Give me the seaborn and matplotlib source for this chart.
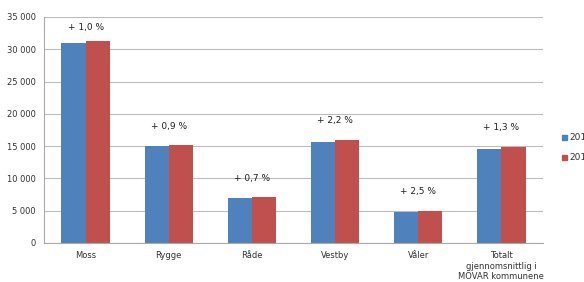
import matplotlib
matplotlib.use("Agg")
import matplotlib.pyplot as plt
import seaborn as sns
import pandas as pd

categories = ["Moss", "Rygge", "Råde", "Vestby", "Våler",
              "Totalt\ngjennomsnittlig i\nMOVAR kommunene"]
values_2011 = [31000, 15000, 7000, 15600, 4800, 14600]
values_2012 = [31300, 15100, 7050, 15900, 4920, 14800]
change_labels = ["+ 1,0 %", "+ 0,9 %", "+ 0,7 %", "+ 2,2 %", "+ 2,5 %", "+ 1,3 %"]
series_names = ["2011", "2012"]
yticks = [0, 5000, 10000, 15000, 20000, 25000, 30000, 35000]
ytick_labels = ["0", "5 000", "10 000", "15 000", "20 000", "25 000", "30 000", "35 000"]

df = pd.DataFrame({
    "kommune": categories * 2,
    "verdi": values_2011 + values_2012,
    "år": [series_names[0]] * len(categories) + [series_names[1]] * len(categories),
})

sns.set_theme(style="white")
plt.rcParams["font.family"] = ["DejaVu Sans"]

fig = plt.figure(figsize=(5.84, 2.82), dpi=100)
ax = fig.add_axes([44 / 584, 1 - 243 / 282, 499 / 584, 226 / 282])

sns.barplot(data=df, x="kommune", y="verdi", hue="år", order=categories,
            hue_order=series_names, palette=["#4F81BD", "#C0504D"],
            width=0.58, gap=0, saturation=1, linewidth=0, edgecolor="none",
            ax=ax, legend=False)

ax.set_ylim(0, 35000)
ax.set_xlim(-0.5, len(categories) - 0.5)
ax.set_yticks(yticks)
ax.set_yticklabels(ytick_labels, fontsize=6, color="#333333")
ax.tick_params(axis="x", labelsize=6, colors="#333333", length=0, pad=6)
ax.tick_params(axis="y", length=3, color="#AAAAAA", pad=3)
ax.set_xlabel("")
ax.set_ylabel("")
ax.yaxis.grid(True, color="#BDBDBD", linewidth=0.8)
ax.set_axisbelow(True)
for s in ["top", "right"]:
    ax.spines[s].set_visible(False)
for s in ["left", "bottom"]:
    ax.spines[s].set_color("#AAAAAA")
    ax.spines[s].set_linewidth(0.8)

for i, lab in enumerate(change_labels):
    top = max(values_2011[i], values_2012[i])
    ax.annotate(lab, (i, top), xytext=(0, 14 if i else 10), textcoords="offset points",
                ha="center", va="center", fontsize=6.5, color="#222222")

# legend (clipped at the right edge like the reference)
for j, (name, col) in enumerate(zip(series_names, ["#4F81BD", "#C0504D"])):
    yy = 1 - (137 + 20 * j) / 282
    fig.patches.append(plt.Rectangle((562 / 584, yy - 0.012), 5 / 584, 5 / 282,
                                     transform=fig.transFigure, color=col, figure=fig))
    fig.text(569 / 584, yy, name, fontsize=6.5, va="center", ha="left", color="#333333")

fig.savefig("out.png", dpi=100)
